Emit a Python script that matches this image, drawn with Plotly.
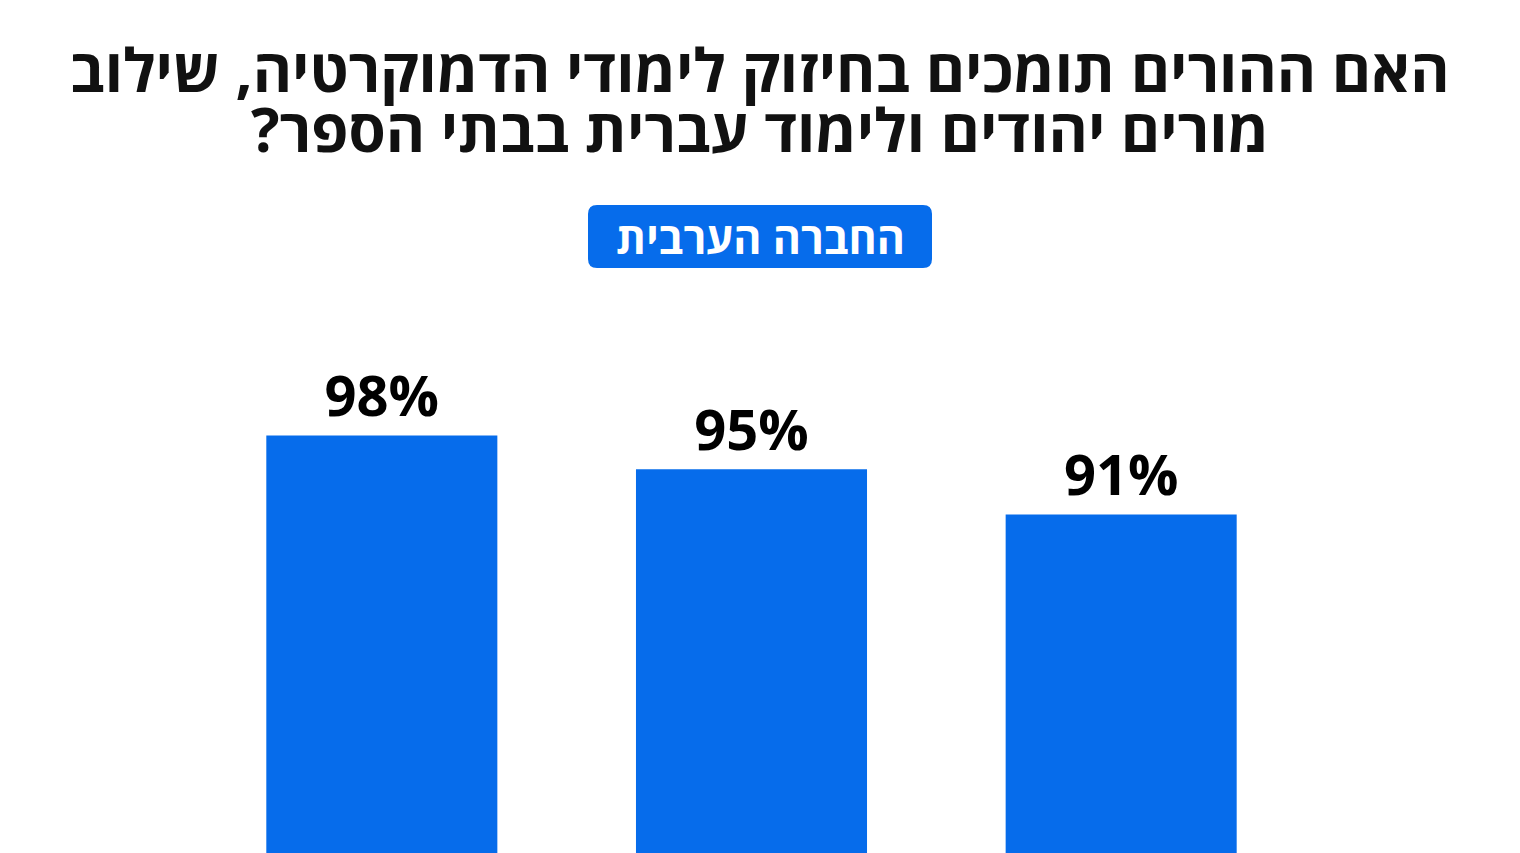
import plotly.graph_objects as go

# survey results (percent of parents who support)
categories = ["חיזוק לימודי הדמוקרטיה", "שילוב מורים יהודים", "לימוד עברית"]
values = [98, 95, 91]

title_lines = [
    "האם ההורים תומכים בחיזוק לימודי הדמוקרטיה, שילוב",
    "מורים יהודים ולימוד עברית בבתי הספר?\u200f",
]
badge_text = "החברה הערבית"

blue = "#066CEB"
font_name = "Open Sans"

# the page adds an 8px body margin, so positions are measured on screen and shifted back
off = 8
W, H = 1520, 853
ml, mr, mt, mb = 197 - off, 214 + off, 300 - off, 0
plot_w = W - ml - mr
plot_h = H - mt - mb


def px_x(p):
    return (p - off - ml) / plot_w


def px_y(p):
    return (H - mb - (p - off)) / plot_h


fig = go.Figure()
fig.add_trace(go.Bar(
    x=categories,
    y=values,
    marker=dict(color=blue, line=dict(width=0)),
    texttemplate="%{y}%",
    textposition="outside",
    textfont=dict(family=font_name, size=56, color="#000000", weight="bold"),
    cliponaxis=False,
    hoverinfo="skip",
))

# title, one annotation per line to keep the tight line spacing
for line, yc in zip(title_lines, [69, 129]):
    fig.add_annotation(
        x=px_x(760), y=px_y(yc), xref="paper", yref="paper",
        text=line, showarrow=False,
        font=dict(family=font_name, size=60, color="#111111", weight="bold"),
        xanchor="center", yanchor="middle",
    )

# rounded badge under the title
hw, hh, r = 172, 31.5, 9
badge_path = (
    f"M {-hw + r},{-hh} L {hw - r},{-hh} Q {hw},{-hh} {hw},{-hh + r} "
    f"L {hw},{hh - r} Q {hw},{hh} {hw - r},{hh} L {-hw + r},{hh} "
    f"Q {-hw},{hh} {-hw},{hh - r} L {-hw},{-hh + r} Q {-hw},{-hh} {-hw + r},{-hh} Z"
)
fig.add_shape(
    type="path", path=badge_path,
    xref="paper", yref="paper",
    xsizemode="pixel", ysizemode="pixel",
    xanchor=px_x(760), yanchor=px_y(236.5),
    fillcolor=blue, line=dict(width=0),
)
fig.add_annotation(
    x=px_x(760), y=px_y(237), xref="paper", yref="paper",
    text=badge_text, showarrow=False,
    font=dict(family=font_name, size=43, color="white", weight="bold"),
    xanchor="center", yanchor="middle",
)

fig.update_layout(
    width=W, height=H,
    margin=dict(l=ml, r=mr, t=mt, b=mb, autoexpand=False),
    paper_bgcolor="white", plot_bgcolor="white",
    bargap=0.375,
    showlegend=False,
    xaxis=dict(showticklabels=False, showgrid=False, zeroline=False, showline=False),
    yaxis=dict(range=[60.3, 110.0], showticklabels=False, showgrid=False,
               zeroline=False, showline=False),
)

fig.write_html("out.html")
